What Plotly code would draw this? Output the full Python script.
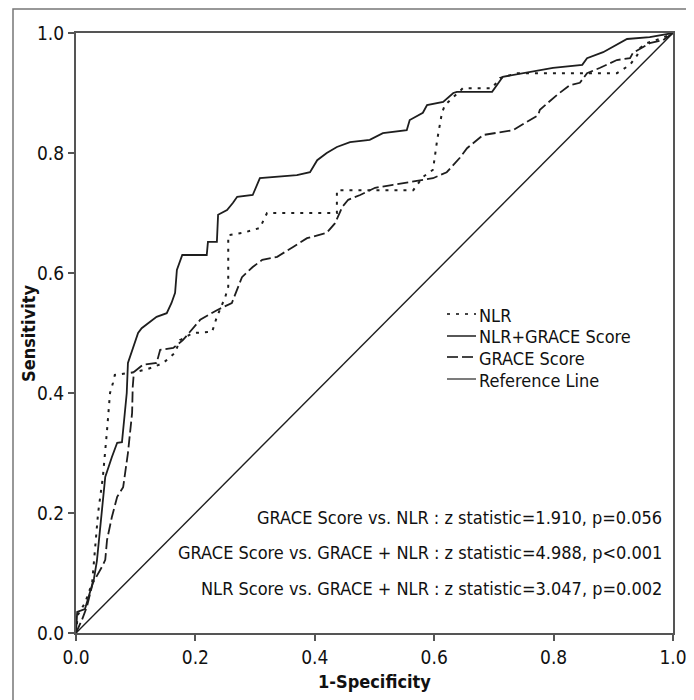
import plotly.graph_objects as go

# ---- data ----
nlr_fpr = [0, 0.003, 0.015, 0.027, 0.037, 0.045, 0.052, 0.057, 0.062, 0.065, 0.085, 0.10, 0.12, 0.129, 0.146,
           0.166, 0.174, 0.196, 0.228, 0.236, 0.25, 0.255, 0.255, 0.28, 0.308, 0.32, 0.437, 0.437, 0.565, 0.581,
           0.598, 0.605, 0.613, 0.618, 0.632, 0.648, 0.697, 0.71, 0.739, 0.906, 0.928, 0.94, 0.945, 0.956, 0.983, 1]
nlr_tpr = [0, 0.03, 0.05, 0.083, 0.2, 0.26, 0.338, 0.40, 0.417, 0.43, 0.433, 0.435, 0.44, 0.443, 0.45,
           0.467, 0.488, 0.50, 0.502, 0.527, 0.56, 0.577, 0.663, 0.667, 0.675, 0.70, 0.70, 0.738, 0.738, 0.76,
           0.772, 0.822, 0.867, 0.88, 0.893, 0.908, 0.908, 0.925, 0.933, 0.933, 0.947, 0.963, 0.975, 0.983, 0.992, 1]

combo_fpr = [0, 0.002, 0.015, 0.023, 0.03, 0.035, 0.044, 0.049, 0.06, 0.069, 0.077, 0.079, 0.085, 0.087, 0.094,
             0.099, 0.104, 0.11, 0.124, 0.135, 0.152, 0.16, 0.166, 0.169, 0.178, 0.219, 0.221, 0.236, 0.238,
             0.253, 0.263, 0.27, 0.296, 0.308, 0.37, 0.392, 0.404, 0.42, 0.437, 0.459, 0.492, 0.514, 0.554,
             0.559, 0.581, 0.588, 0.615, 0.632, 0.638, 0.697, 0.715, 0.799, 0.848, 0.856, 0.883, 0.906, 0.923,
             0.961, 1]
combo_tpr = [0, 0.035, 0.04, 0.067, 0.09, 0.12, 0.21, 0.26, 0.293, 0.317, 0.318, 0.338, 0.40, 0.45, 0.47,
             0.488, 0.50, 0.508, 0.518, 0.527, 0.533, 0.55, 0.567, 0.605, 0.63, 0.63, 0.652, 0.652, 0.697,
             0.705, 0.717, 0.727, 0.73, 0.758, 0.763, 0.768, 0.788, 0.80, 0.81, 0.818, 0.822, 0.833, 0.838,
             0.855, 0.867, 0.88, 0.885, 0.9, 0.902, 0.902, 0.927, 0.942, 0.947, 0.958, 0.968, 0.98, 0.99,
             0.993, 1]

grace_fpr = [0, 0.01, 0.018, 0.028, 0.045, 0.049, 0.052, 0.06, 0.069, 0.079, 0.087, 0.094, 0.095, 0.097, 0.112,
             0.135, 0.141, 0.163, 0.179, 0.208, 0.236, 0.261, 0.278, 0.296, 0.312, 0.337, 0.363, 0.387, 0.42,
             0.434, 0.446, 0.456, 0.476, 0.501, 0.531, 0.559, 0.598, 0.621, 0.643, 0.655, 0.682, 0.732, 0.755,
             0.774, 0.777, 0.806, 0.827, 0.844, 0.856, 0.878, 0.906, 0.928, 0.933, 0.948, 0.961, 0.983, 1]
grace_tpr = [0, 0.022, 0.043, 0.083, 0.113, 0.122, 0.155, 0.193, 0.227, 0.243, 0.30, 0.367, 0.41, 0.435, 0.447,
             0.45, 0.472, 0.475, 0.488, 0.522, 0.538, 0.55, 0.593, 0.61, 0.622, 0.627, 0.643, 0.658, 0.667,
             0.683, 0.71, 0.722, 0.73, 0.742, 0.747, 0.752, 0.758, 0.768, 0.792, 0.808, 0.83, 0.838, 0.852,
             0.863, 0.872, 0.897, 0.913, 0.917, 0.933, 0.942, 0.955, 0.958, 0.967, 0.975, 0.983, 0.988, 1]

ref_x = [0, 1]
ref_y = [0, 1]

series_names = ["NLR", "NLR+GRACE Score", "GRACE Score", "Reference Line"]
stats_lines = [
    "GRACE Score vs. NLR : z statistic=1.910, p=0.056",
    "GRACE Score vs. GRACE + NLR : z statistic=4.988, p<0.001",
    "NLR Score vs. GRACE + NLR : z statistic=3.047, p=0.002",
]
tick_vals = [0.0, 0.2, 0.4, 0.6, 0.8, 1.0]
tick_text = ["0.0", "0.2", "0.4", "0.6", "0.8", "1.0"]

# ---- styling ----
FONT = "DejaVu Sans Condensed, Liberation Sans Narrow, sans-serif"
INK = "#1e1e1e"
TXT = "#111"
styles = {
    "NLR": dict(dash="3px,6px", width=2),
    "NLR+GRACE Score": dict(dash="solid", width=1.8),
    "GRACE Score": dict(dash="11px,4px", width=1.8),
    "Reference Line": dict(dash="solid", width=1.4),
}

# page-pixel geometry of the plot area (the page body adds an 8px offset)
OFF = 8
L, R, T, B = 76, 673, 33, 633
W, H = R - L, B - T
FIG_W, FIG_H = 694 - OFF, 700 - OFF


def px_x(p):
    return (p - L) / W


def px_y(p):
    return (B - p) / H


fig = go.Figure()
for name, xs, ys in [("Reference Line", ref_x, ref_y),
                     ("GRACE Score", grace_fpr, grace_tpr),
                     ("NLR", nlr_fpr, nlr_tpr),
                     ("NLR+GRACE Score", combo_fpr, combo_tpr)]:
    st = styles[name]
    fig.add_trace(go.Scatter(x=xs, y=ys, mode="lines", name=name, showlegend=False,
                             line=dict(color=INK, width=st["width"], dash=st["dash"])))

# custom legend (line samples + labels)
leg_y_px = [314, 336, 357, 379]
for name, yp in zip(series_names, leg_y_px):
    st = styles[name]
    yy = px_y(yp)
    fig.add_shape(type="line", xref="paper", yref="paper", x0=px_x(447), x1=px_x(476), y0=yy, y1=yy,
                  line=dict(color="#444", width=st["width"], dash=st["dash"]))
    fig.add_annotation(x=px_x(477), y=px_y(yp + 1), xref="paper", yref="paper", text=name, showarrow=False,
                       xanchor="left", yanchor="middle", font=dict(family=FONT, size=18, color=TXT))

# stats text
for txt, yp in zip(stats_lines, [516, 551, 587]):
    fig.add_annotation(x=px_x(664), y=px_y(yp + 1), xref="paper", yref="paper", text=txt, showarrow=False,
                       xanchor="right", yanchor="middle", font=dict(family=FONT, size=18, color=TXT))

# axis titles
fig.add_annotation(x=px_x(28), y=0.5, xref="paper", yref="paper", text="<b>Sensitivity</b>", showarrow=False,
                   textangle=-90, xanchor="center", yanchor="middle",
                   font=dict(family=FONT, size=18, color=TXT))
fig.add_annotation(x=0.5, y=px_y(682), xref="paper", yref="paper", text="<b>1-Specificity</b>",
                   showarrow=False, xanchor="center", yanchor="middle",
                   font=dict(family=FONT, size=18, color=TXT))

# outer frame
fig.add_shape(type="rect", xref="paper", yref="paper",
              x0=px_x(13), x1=px_x(688), y0=px_y(712), y1=px_y(9),
              line=dict(color="#777", width=1.5))

axis_common = dict(range=[0, 1], tickvals=tick_vals, ticktext=tick_text, showgrid=False, zeroline=False,
                   showline=True, linecolor="#555", linewidth=2, mirror=True, ticks="outside",
                   ticklen=6, tickwidth=2, tickcolor="#555", automargin=False,
                   tickfont=dict(family=FONT, size=19, color=TXT))
fig.update_xaxes(**axis_common)
fig.update_yaxes(**axis_common)

fig.update_layout(width=FIG_W, height=FIG_H,
                  margin=dict(l=L - OFF, r=(694 - OFF) - (R - OFF), t=T - OFF, b=(700 - OFF) - (B - OFF)),
                  plot_bgcolor="white", paper_bgcolor="white", showlegend=False)

fig.write_html("out.html")
